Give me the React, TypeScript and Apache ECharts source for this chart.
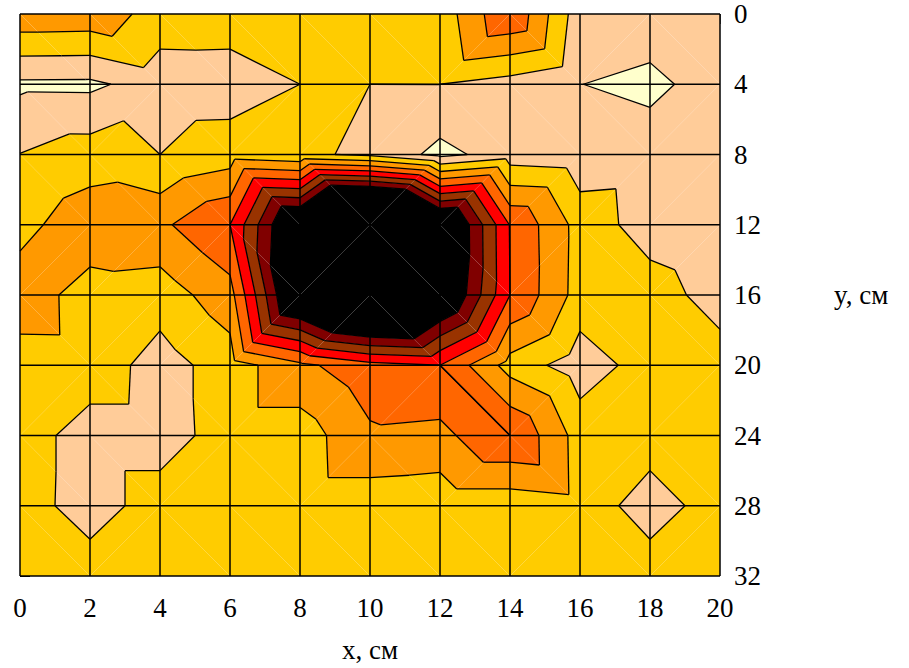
import React, { useEffect, useRef } from "react";
import * as echarts from "echarts";

// Node coordinates of the measured grid (cm)
const xNodes = [0, 2, 4, 6, 8, 10, 12, 14, 16, 18, 20];
const yNodes = [0, 4, 8, 12, 16, 20, 24, 28, 32];

// Field values at the nodes, one row per y
const zAtY0 = [3.76, 3.71, 2.53, 2.5, 2.5, 2.5, 2.37, 4.95, 1.41, 1.45, 1.4];
const zAtY4 = [0.82, 0.8, 1.47, 1.5, 2.0, 2.0, 2.001, 1.6, 1.01, 0.8, 1.37];
const zAtY8 = [2.02, 2.49, 2.0, 2.5, 2.2, 1.8, 0.7, 1.47, 1.3, 1.41, 1.3];
const zAtY12 = [2.7, 3.6, 3.79, 5.0, 10.0, 15.5, 10.2, 4.95, 2.62, 1.5, 1.1];
const zAtY16 = [3.5, 2.6, 2.47, 3.6, 10.2, 13.0, 9.8, 5.0, 2.58, 2.5, 1.54];
const zAtY20 = [2.6, 2.62, 1.55, 2.5, 3.75, 4.67, 5.0, 2.59, 1.46, 2.45, 2.48];
const zAtY24 = [2.53, 1.5, 1.5, 2.5, 2.5, 3.82, 3.7, 5.0, 2.58, 2.5, 2.45];
const zAtY28 = [2.5, 1.5, 2.5, 2.4, 2.45, 2.45, 2.37, 2.37, 2.62, 1.5, 2.5];
const zAtY32 = [2.5, 2.55, 2.5, 2.5, 2.5, 2.5, 2.5, 2.5, 2.5, 2.55, 2.5];
const zRows = [zAtY0, zAtY4, zAtY8, zAtY12, zAtY16, zAtY20, zAtY24, zAtY28, zAtY32];

// Contour levels and band colours (low -> high)
const levels = [1, 2, 3, 4, 5, 6, 7, 8];
const bandColors = [
  "#FFFFCC",
  "#FFCC99",
  "#FFCC00",
  "#FF9900",
  "#FF6600",
  "#FF0000",
  "#993300",
  "#800000",
  "#000000",
];

// Axis ticks
const xTicks = [0, 2, 4, 6, 8, 10, 12, 14, 16, 18, 20];
const yTicks = [0, 4, 8, 12, 16, 20, 24, 28, 32];

const FONT = "Liberation Serif";

type P = [number, number, number];

function buildTriangles(): P[][] {
  const tris: P[][] = [];
  for (let j = 0; j < yNodes.length - 1; j++) {
    for (let i = 0; i < xNodes.length - 1; i++) {
      const TL: P = [xNodes[i], yNodes[j], zRows[j][i]];
      const TR: P = [xNodes[i + 1], yNodes[j], zRows[j][i + 1]];
      const BL: P = [xNodes[i], yNodes[j + 1], zRows[j + 1][i]];
      const BR: P = [xNodes[i + 1], yNodes[j + 1], zRows[j + 1][i + 1]];
      if (Math.max(TL[2], BR[2]) >= Math.max(TR[2], BL[2])) {
        tris.push([TL, TR, BR], [TL, BR, BL]);
      } else {
        tris.push([TL, TR, BL], [TR, BR, BL]);
      }
    }
  }
  return tris;
}

function clipPoly(poly: P[], L: number, keepAbove: boolean): P[] {
  const out: P[] = [];
  const n = poly.length;
  for (let k = 0; k < n; k++) {
    const a = poly[k];
    const b = poly[(k + 1) % n];
    const ain = keepAbove ? a[2] >= L : a[2] <= L;
    const bin = keepAbove ? b[2] >= L : b[2] <= L;
    if (ain) out.push(a);
    if (ain !== bin) {
      const t = (L - a[2]) / (b[2] - a[2]);
      out.push([a[0] + t * (b[0] - a[0]), a[1] + t * (b[1] - a[1]), L]);
    }
  }
  return out;
}

function area(pts: P[]): number {
  let s = 0;
  for (let k = 0; k < pts.length; k++) {
    const a = pts[k];
    const b = pts[(k + 1) % pts.length];
    s += a[0] * b[1] - b[0] * a[1];
  }
  return Math.abs(s / 2);
}

const triangles = buildTriangles();

type Fill = { pts: P[]; color: string };
const fills: Fill[] = [];
for (const tri of triangles) {
  for (let b = 0; b < bandColors.length; b++) {
    let poly: P[] = tri.slice();
    if (b > 0) poly = clipPoly(poly, levels[b - 1], true);
    if (poly.length >= 3 && b < levels.length) poly = clipPoly(poly, levels[b], false);
    if (poly.length >= 3 && area(poly) > 1e-7) fills.push({ pts: poly, color: bandColors[b] });
  }
}

const segments: number[][] = [];
for (const tri of triangles) {
  for (const L of levels) {
    const pts: number[][] = [];
    for (let k = 0; k < 3; k++) {
      const a = tri[k];
      const b = tri[(k + 1) % 3];
      if (a[2] < L !== b[2] < L) {
        const t = (L - a[2]) / (b[2] - a[2]);
        pts.push([a[0] + t * (b[0] - a[0]), a[1] + t * (b[1] - a[1])]);
      }
    }
    if (pts.length === 2) segments.push([pts[0][0], pts[0][1], pts[1][0], pts[1][1]]);
  }
}

const gridItems: (string | number)[][] = [
  ...xTicks.map((v) => ["x", v]),
  ...yTicks.map((v) => ["y", v]),
];

export default function App() {
  const ref = useRef<HTMLDivElement>(null);
  useEffect(() => {
    if (!ref.current) return;
    document.body.style.margin = "0";
    const chart = echarts.init(ref.current, undefined, { renderer: "svg" });
    const labelStyle = { color: "#000", fontSize: 27, fontFamily: FONT };
    chart.setOption({
      animation: false,
      grid: { left: 20, top: 14, width: 700, height: 563 },
      xAxis: {
        type: "value",
        min: 0,
        max: 20,
        interval: 2,
        axisLine: { show: false },
        axisTick: { show: true, length: 10, lineStyle: { color: "#666", width: 1 } },
        splitLine: { show: false },
        axisLabel: { ...labelStyle, margin: 18 },
        name: "x, см",
        nameLocation: "middle",
        nameGap: 60,
        nameTextStyle: labelStyle,
      },
      yAxis: {
        type: "value",
        min: 0,
        max: 32,
        interval: 4,
        inverse: true,
        position: "right",
        axisLine: { show: false },
        axisTick: { show: true, length: 10, lineStyle: { color: "#000", width: 1 } },
        splitLine: { show: false },
        axisLabel: { ...labelStyle, margin: 14 },
        name: "y, см",
        nameLocation: "middle",
        nameRotate: 0,
        nameGap: 114,
        nameTextStyle: labelStyle,
      },
      series: [
        {
          type: "custom",
          silent: true,
          z: 1,
          data: fills.map((f, k) => [f.pts[0][0], f.pts[0][1], k]),
          encode: { x: 0, y: 1 },
          renderItem: (params: any, api: any) => {
            const f = fills[params.dataIndex];
            return {
              type: "polygon",
              shape: { points: f.pts.map((p) => api.coord([p[0], p[1]])) },
              style: { fill: f.color },
            };
          },
        },
        {
          type: "custom",
          silent: true,
          z: 2,
          data: segments.map((s) => [s[0], s[1], s[2], s[3]]),
          encode: { x: 0, y: 1 },
          renderItem: (params: any, api: any) => {
            const s = segments[params.dataIndex];
            const a = api.coord([s[0], s[1]]);
            const b = api.coord([s[2], s[3]]);
            return {
              type: "line",
              shape: { x1: a[0], y1: a[1], x2: b[0], y2: b[1] },
              style: { stroke: "#000", lineWidth: 1.3 },
            };
          },
        },
        {
          type: "custom",
          silent: true,
          z: 3,
          data: gridItems.map((g) => (g[0] === "x" ? [g[1], 0] : [0, g[1]])),
          encode: { x: 0, y: 1 },
          renderItem: (params: any, api: any) => {
            const g = gridItems[params.dataIndex];
            const v = g[1] as number;
            const a = g[0] === "x" ? api.coord([v, 0]) : api.coord([0, v]);
            const b = g[0] === "x" ? api.coord([v, 32]) : api.coord([20, v]);
            return {
              type: "line",
              shape: { x1: a[0], y1: a[1], x2: b[0], y2: b[1] },
              style: { stroke: "#000", lineWidth: 1.5 },
            };
          },
        },
      ],
    });
    return () => chart.dispose();
  }, []);
  return (
    <div
      ref={ref}
      style={{ position: "fixed", left: 0, top: 0, width: 909, height: 668, background: "#fff" }}
    />
  );
}
